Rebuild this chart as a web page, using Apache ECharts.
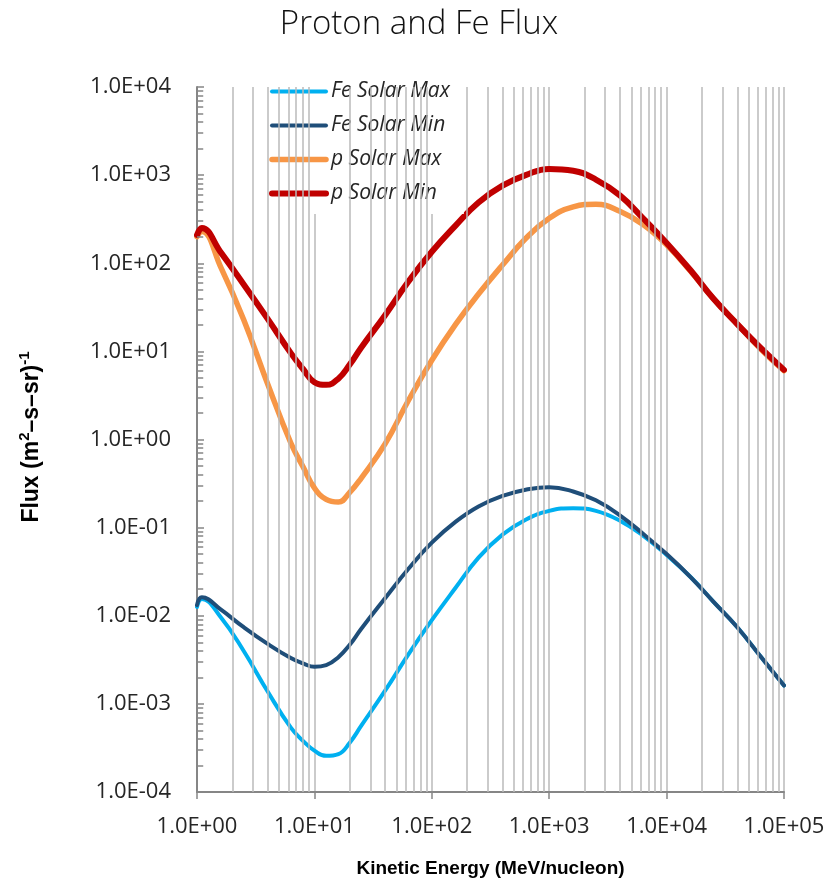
<!DOCTYPE html>
<html>
<head>
<meta charset="utf-8">
<title>Proton and Fe Flux</title>
<script src="https://cdn.jsdelivr.net/npm/echarts@6/dist/echarts.min.js"></script>
<style>
  html, body { margin: 0; padding: 0; background: #ffffff; }
  #chart { width: 838px; height: 886px; }
</style>
</head>
<body>
<div id="chart"></div>
<script>
// Kinetic energy grid (MeV/nucleon): 0.2-decade steps, 0.1 around the low-energy dip
const energy = [1, 1.1, 1.6, 2.5, 4, 6.3, 8, 10, 12.6, 16, 20, 25, 40, 63, 100, 160, 250, 400, 630,
  1000, 1600, 2500, 4000, 6300, 10000, 16000, 25000, 40000, 63000, 100000];

// Differential flux, (m^2-s-sr)^-1
const feSolarMax = [0.0126, 0.0155, 0.00955, 0.00398, 0.00138, 0.000537, 0.000380, 0.000295, 0.000257, 0.000269,
  0.000363, 0.000562, 0.00141, 0.00363, 0.00891, 0.0209, 0.0457, 0.0832, 0.123, 0.155,
  0.166, 0.155, 0.120, 0.0813, 0.0490, 0.0275, 0.0145, 0.00741, 0.00347, 0.00162];
const feSolarMin = [0.0132, 0.0162, 0.0117, 0.00741, 0.00479, 0.00331, 0.00288, 0.00263, 0.00275, 0.00339,
  0.00468, 0.00708, 0.0158, 0.0339, 0.0676, 0.117, 0.174, 0.229, 0.269, 0.288,
  0.257, 0.204, 0.138, 0.0851, 0.0501, 0.0275, 0.0145, 0.00741, 0.00347, 0.00162];
const pSolarMax = [200, 229, 89.1, 22.9, 4.27, 0.912, 0.490, 0.282, 0.209, 0.195,
  0.251, 0.363, 0.891, 2.75, 7.94, 20.4, 44.7, 95.5, 191, 324,
  437, 468, 389, 275, 162, 81.3, 39.8, 20.4, 10.7, 6.03];
const pSolarMin = [209, 251, 132, 57.5, 23.4, 9.55, 6.31, 4.47, 4.17, 4.90,
  7.08, 11.0, 25.7, 61.7, 135, 269, 490, 759, 1000, 1175,
  1122, 891, 589, 324, 170, 83.2, 39.8, 20.4, 11.0, 6.17];

const seriesNames = ['Fe Solar Max', 'Fe Solar Min', 'p Solar Max', 'p Solar Min'];
const seriesColors = ['#00B0F0', '#1F4E79', '#F79646', '#C00000'];

// Tick labels per decade
const xTickLabels = ['1.0E+00', '1.0E+01', '1.0E+02', '1.0E+03', '1.0E+04', '1.0E+05'];
const yTickLabels = ['1.0E-04', '1.0E-03', '1.0E-02', '1.0E-01', '1.0E+00', '1.0E+01', '1.0E+02', '1.0E+03', '1.0E+04'];

// Minor decade multipliers used for the vertical grid and the y minor ticks
const minorSteps = [2, 3, 4, 5, 6, 7, 8, 9];

const gridColor = '#BABABA';
const axisColor = '#868686';

function pairs(values) {
  return energy.map((e, i) => [e, values[i]]);
}

// vertical minor grid lines at 2..9 x 10^k
const xMinorLines = [];
for (let k = 0; k < 5; k++) {
  minorSteps.forEach(m => xMinorLines.push({ xAxis: m * Math.pow(10, k) }));
}
// short inward ticks on the y axis at 2..9 x 10^k
const yMinorTicks = [];
for (let k = -4; k < 4; k++) {
  minorSteps.forEach(m => {
    const v = m * Math.pow(10, k);
    yMinorTicks.push([{ coord: [1, v] }, { coord: [1.13, v] }]);
  });
}

const fluxSets = [feSolarMax, feSolarMin, pSolarMax, pSolarMin];
const widths = [4, 4, 5.5, 6];

const chart = echarts.init(document.getElementById('chart'), null, { renderer: 'canvas' });

const series = [
  {
    type: 'line',
    name: 'grid',
    data: [],
    silent: true,
    markLine: {
      silent: true,
      animation: false,
      symbol: ['none', 'none'],
      label: { show: false },
      lineStyle: { color: gridColor, width: 1.5, type: 'solid' },
      emphasis: { disabled: true },
      data: xMinorLines
    }
  },
  {
    type: 'line',
    name: 'ticks',
    data: [],
    silent: true,
    markLine: {
      silent: true,
      animation: false,
      symbol: ['none', 'none'],
      label: { show: false },
      lineStyle: { color: axisColor, width: 1.5, type: 'solid' },
      emphasis: { disabled: true },
      data: yMinorTicks
    }
  }
];

seriesNames.forEach((name, i) => {
  series.push({
    type: 'line',
    name: name,
    data: pairs(fluxSets[i]),
    smooth: 0.45,
    symbol: 'none',
    showSymbol: false,
    lineStyle: { color: seriesColors[i], width: widths[i], cap: 'round', join: 'round' },
    itemStyle: { color: seriesColors[i] },
    emphasis: { disabled: true },
    animation: false
  });
});

chart.setOption({
  animation: false,
  backgroundColor: '#ffffff',
  title: {
    text: 'Proton and Fe Flux',
    left: 'center',
    top: 3,
    textStyle: { fontFamily: 'Open Sans', fontWeight: 300, fontSize: 33, color: '#111111' }
  },
  grid: { left: 197, right: 54, top: 87, bottom: 94, containLabel: false },
  legend: {
    data: seriesNames.map((n, i) => ({ name: n, lineStyle: { width: widths[i] } })),
    orient: 'vertical',
    left: 254,
    top: 73,
    padding: [8, 14, 10, 15],
    itemWidth: 54,
    itemHeight: 14,
    itemGap: 13,
    backgroundColor: '#ffffff',
    selectedMode: false,
    itemStyle: { opacity: 0 },
    textStyle: { fontFamily: 'Open Sans', fontStyle: 'italic', fontSize: 21, color: '#262626' }
  },
  xAxis: {
    type: 'log',
    logBase: 10,
    min: 1,
    max: 100000,
    name: 'Kinetic Energy (MeV/nucleon)',
    nameLocation: 'middle',
    nameGap: 67,
    nameTextStyle: { fontFamily: 'Liberation Sans', fontWeight: 'bold', fontSize: 19, color: '#000000' },
    axisLine: { show: true, lineStyle: { color: axisColor, width: 2 } },
    axisTick: { show: true, inside: false, length: 7, lineStyle: { color: axisColor, width: 1.5 } },
    axisLabel: {
      margin: 24,
      fontFamily: 'Open Sans',
      fontSize: 22,
      color: '#262626',
      formatter: v => xTickLabels[Math.round(Math.log10(v))]
    },
    splitLine: { show: true, lineStyle: { color: gridColor, width: 1.5 } },
    minorTick: { show: false },
    minorSplitLine: { show: false }
  },
  yAxis: {
    type: 'log',
    logBase: 10,
    min: 0.0001,
    max: 10000,
    axisLine: { show: true, lineStyle: { color: axisColor, width: 2 } },
    axisTick: { show: true, inside: true, length: 7, lineStyle: { color: axisColor, width: 1.5 } },
    axisLabel: {
      margin: 26,
      fontFamily: 'Open Sans',
      fontSize: 22,
      color: '#262626',
      formatter: v => yTickLabels[Math.round(Math.log10(v)) + 4]
    },
    splitLine: { show: false }
  },
  graphic: [
    {
      type: 'text',
      x: 32,
      y: 437,
      rotation: Math.PI / 2,
      style: {
        text: '{a|Flux (m}{s|2}{a|\u2013s\u2013sr)}{s|-1}',
        align: 'center',
        verticalAlign: 'middle',
        rich: {
          a: { fontFamily: 'Liberation Sans', fontWeight: 'bold', fontSize: 23, lineHeight: 30, fill: '#000000' },
          s: { fontFamily: 'Liberation Sans', fontWeight: 'bold', fontSize: 15, lineHeight: 30, verticalAlign: 'top', fill: '#000000' }
        }
      }
    }
  ],
  series: series
});
</script>
</body>
</html>
